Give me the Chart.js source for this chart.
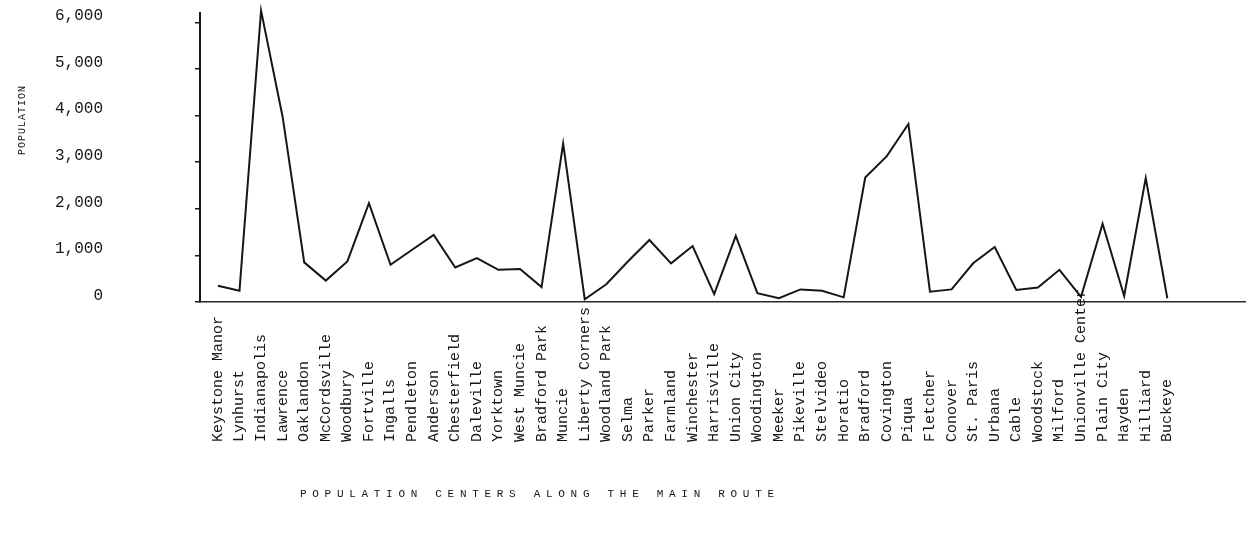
<!DOCTYPE html>
<html>
<head>
<meta charset="utf-8">
<script src="https://cdn.jsdelivr.net/npm/chart.js@4"></script>
<style>
  html, body { margin: 0; padding: 0; background: #fff; }
  #wrap { width: 1252px; height: 533px; position: relative; }
</style>
</head>
<body>
<div id="wrap"><canvas id="route-chart"></canvas></div>
<script>
// towns along the main route, west to east
const towns = [
  'Keystone Manor', 'Lynhurst', 'Indianapolis', 'Lawrence', 'Oaklandon',
  'McCordsville', 'Woodbury', 'Fortville', 'Ingalls', 'Pendleton',
  'Anderson', 'Chesterfield', 'Daleville', 'Yorktown', 'West Muncie',
  'Bradford Park', 'Muncie', 'Liberty Corners', 'Woodland Park', 'Selma',
  'Parker', 'Farmland', 'Winchester', 'Harrisville', 'Union City',
  'Woodington', 'Meeker', 'Pikeville', 'Stelvideo', 'Horatio',
  'Bradford', 'Covington', 'Piqua', 'Fletcher', 'Conover',
  'St. Paris', 'Urbana', 'Cable', 'Woodstock', 'Milford',
  'Unionville Center', 'Plain City', 'Hayden', 'Hilliard', 'Buckeye'
];

// population
const population = [
  350, 240, 6250, 3970, 850,
  460, 870, 2120, 800, 1120,
  1440, 740, 940, 690, 710,
  320, 3400, 60, 380, 870,
  1330, 830, 1200, 170, 1420,
  190, 80, 270, 240, 100,
  2670, 3130, 3820, 220, 270,
  830, 1180, 260, 310, 690,
  110, 1680, 130, 2660, 80
];

const yTicks = [0, 1000, 2000, 3000, 4000, 5000, 6000];
const yTitle = 'POPULATION';
const xTitle = 'POPULATION CENTERS ALONG THE MAIN ROUTE';

const ink = '#161616';

// town names sit bottom-aligned and read upward, plus the two axis titles
const routeText = {
  id: 'routeText',
  afterDraw(chart) {
    const ctx = chart.ctx;
    const xs = chart.scales.x;
    ctx.save();
    ctx.fillStyle = ink;
    ctx.font = '15px "Liberation Mono", monospace';
    ctx.textAlign = 'left';
    ctx.textBaseline = 'middle';
    towns.forEach((name, i) => {
      ctx.save();
      ctx.translate(xs.getPixelForValue(i), 442);
      ctx.rotate(-Math.PI / 2);
      ctx.fillText(name, 0, 0);
      ctx.restore();
    });

    ctx.font = '10px "Liberation Mono", monospace';
    ctx.letterSpacing = '1px';
    ctx.textAlign = 'center';
    ctx.save();
    ctx.translate(22, 120);
    ctx.rotate(-Math.PI / 2);
    ctx.fillText(yTitle, 0, 0);
    ctx.restore();

    ctx.font = '11px "Liberation Mono", monospace';
    ctx.letterSpacing = '5.7px';
    ctx.textAlign = 'left';
    ctx.fillText(xTitle, 300, 494);
    ctx.restore();
  }
};

new Chart(document.querySelector('#route-chart').getContext('2d'), {
  type: 'line',
  data: {
    datasets: [{
      data: population.map((p, i) => ({ x: i, y: p })),
      borderColor: ink,
      borderWidth: 2,
      pointRadius: 0,
      tension: 0,
      fill: false,
      clip: false
    }]
  },
  options: {
    responsive: true,
    maintainAspectRatio: false,
    animation: false,
    layout: { padding: { left: 55, right: 7, top: 13, bottom: 231 } },
    plugins: {
      legend: { display: false },
      tooltip: { enabled: false }
    },
    scales: {
      x: {
        type: 'linear',
        min: -0.83,
        max: 47.6,
        grid: { display: false, drawTicks: false },
        ticks: { display: false },
        border: { display: true, color: '#2a2a2a', width: 1.5, dash: [6, 3] }
      },
      y: {
        min: 0,
        max: 6200,
        afterBuildTicks: axis => { axis.ticks = yTicks.map(v => ({ value: v })); },
        afterFit: axis => {
          axis.width = 145;
          axis.paddingTop = 0;
          axis.paddingBottom = 0;
        },
        grid: { display: true, drawOnChartArea: false, drawTicks: true, tickLength: 5, color: ink, lineWidth: 1.5 },
        border: { display: true, color: ink, width: 2 },
        ticks: {
          padding: 92,
          color: ink,
          font: { family: '"Liberation Mono", monospace', size: 16, lineHeight: 0.8 },
          // second empty line lifts each number a little above its tick, as in the print
          callback: v => [v.toLocaleString('en-US'), '']
        }
      }
    }
  },
  plugins: [routeText]
});
</script>
</body>
</html>
